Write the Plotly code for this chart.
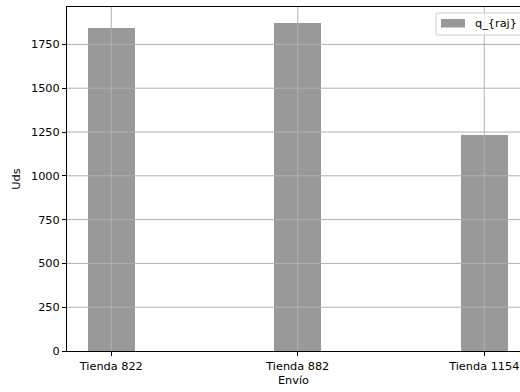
import plotly.graph_objects as go

# Units shipped per store
tiendas = ["Tienda 822", "Tienda 882", "Tienda 1154"]
q_raj = [1842, 1870, 1231]
serie = "q_{raj}"
y_ticks = [0, 250, 500, 750, 1000, 1250, 1500, 1750]

font = dict(family="DejaVu Sans", size=11.3, color="black")
bar_color = "#999999"
grid_color = "#b0b0b0"

x_pos = list(range(len(tiendas)))
x_range = [-0.2375, 2.1915]
y_top = max(q_raj) * 1.05

fig = go.Figure()
fig.add_trace(go.Bar(
    x=x_pos, y=q_raj, name=serie,
    width=0.25, marker=dict(color=bar_color, line=dict(width=0)),
    showlegend=False,
))

shapes = []
# grid drawn on top of the bars
for yv in y_ticks[1:]:
    shapes.append(dict(type="line", xref="paper", yref="y", x0=0, x1=1, y0=yv, y1=yv,
                       line=dict(color=grid_color, width=1), layer="above"))
for xv in x_pos:
    shapes.append(dict(type="line", xref="x", yref="paper", x0=xv, x1=xv, y0=0, y1=1,
                       line=dict(color=grid_color, width=1), layer="above"))

# legend box with a wide patch, placed in the upper right corner
W, H = 453.0, 344.0
def px(x):
    return (x - 67) / W
def py(y):
    return 1 - (y - 7) / H

x0, x1, y0, y1, r = 436, 524, 13, 35, 2
path = (f"M {px(x0 + r)},{py(y0)} L {px(x1 - r)},{py(y0)} "
        f"Q {px(x1)},{py(y0)} {px(x1)},{py(y0 + r)} L {px(x1)},{py(y1 - r)} "
        f"Q {px(x1)},{py(y1)} {px(x1 - r)},{py(y1)} L {px(x0 + r)},{py(y1)} "
        f"Q {px(x0)},{py(y1)} {px(x0)},{py(y1 - r)} L {px(x0)},{py(y0 + r)} "
        f"Q {px(x0)},{py(y0)} {px(x0 + r)},{py(y0)} Z")
shapes.append(dict(type="path", xref="paper", yref="paper", path=path,
                   fillcolor="rgba(255,255,255,0.8)", line=dict(color="#cccccc", width=1),
                   layer="above"))
shapes.append(dict(type="rect", xref="paper", yref="paper",
                   x0=px(441), x1=px(465), y0=py(27.5), y1=py(19),
                   fillcolor=bar_color, line=dict(width=0), layer="above"))

annotations = [dict(xref="paper", yref="paper", x=px(473), y=py(23.5),
                    xanchor="left", yanchor="middle", text=serie, showarrow=False,
                    font=font)]

fig.update_layout(
    width=520, height=392,
    margin=dict(l=67, r=0, t=7, b=41, autoexpand=False),
    paper_bgcolor="white", plot_bgcolor="white",
    font=font,
    bargap=0,
    showlegend=False,
    shapes=shapes,
    annotations=annotations,
    xaxis=dict(
        range=x_range, automargin=False,
        tickmode="array", tickvals=x_pos, ticktext=tiendas,
        ticks="outside", ticklen=4, tickwidth=1, tickcolor="black",
        showline=True, linecolor="black", linewidth=1, mirror=True,
        showgrid=False, zeroline=False,
        title=dict(text="Envío", font=font, standoff=4),
    ),
    yaxis=dict(
        range=[0, y_top], automargin=False,
        tickmode="array", tickvals=y_ticks,
        ticks="outside", ticklen=4, tickwidth=1, tickcolor="black",
        showline=True, linecolor="black", linewidth=1,
        showgrid=False, zeroline=False,
        title=dict(text="Uds", font=font, standoff=8),
    ),
)

fig.write_html("out.html")
